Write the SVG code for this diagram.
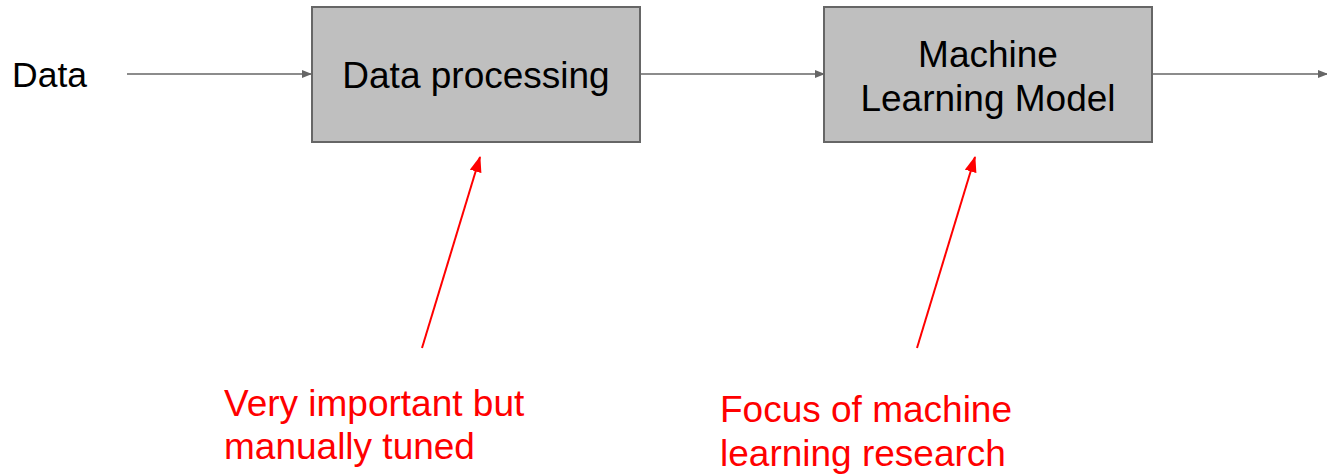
<svg xmlns="http://www.w3.org/2000/svg" width="1327" height="476" viewBox="0 0 1327 476">
<defs>
<style>
.box{fill:#bfbfbf;stroke:#666666;stroke-width:2}
.lbl{font-family:"Liberation Sans",Arial,sans-serif;font-size:37px;fill:#000}
.note{font-family:"Liberation Sans",Arial,sans-serif;font-size:37px;fill:#ff0000}
.conn{stroke:#666666;stroke-width:1.5;fill:none}
.red{stroke:#ff0000;stroke-width:2;fill:none}
</style>
<marker id="ah" markerWidth="10" markerHeight="8" refX="9" refY="4" orient="auto" markerUnits="userSpaceOnUse">
<path d="M0,0 L10,4 L0,8 Z" fill="#666666"/>
</marker>
<marker id="ahr" markerWidth="16" markerHeight="12" refX="15" refY="6" orient="auto" markerUnits="userSpaceOnUse">
<path d="M0,0 L16,6 L0,12 Z" fill="#ff0000"/>
</marker>
</defs>
<rect width="1327" height="476" fill="#ffffff"/>
<g id="connectors">
<line class="conn" x1="127" y1="74" x2="311" y2="74" marker-end="url(#ah)"/>
<line class="conn" x1="640" y1="74" x2="824" y2="74" marker-end="url(#ah)"/>
<line class="conn" x1="1152" y1="74" x2="1327" y2="74" marker-end="url(#ah)"/>
<line class="red" x1="422" y1="348" x2="480" y2="157" marker-end="url(#ahr)"/>
<line class="red" x1="917" y1="348" x2="975" y2="157" marker-end="url(#ahr)"/>
</g>
<g id="data">
<text class="lbl" x="12" y="87" style="font-size:35.5px">Data</text>
</g>
<g id="data-processing">
<rect class="box" x="312" y="7" width="328" height="135"/>
<text class="lbl" x="476" y="88" text-anchor="middle">Data processing</text>
</g>
<g id="ml-model">
<rect class="box" x="824" y="7" width="328" height="135"/>
<text class="lbl" x="988" y="67" text-anchor="middle">Machine</text>
<text class="lbl" x="988" y="111" text-anchor="middle">Learning Model</text>
</g>
<g id="note-processing">
<text class="note" x="224" y="416">Very important but</text>
<text class="note" x="224" y="459">manually tuned</text>
</g>
<g id="note-ml">
<text class="note" x="720" y="422">Focus of machine</text>
<text class="note" x="720" y="466">learning research</text>
</g>
</svg>
